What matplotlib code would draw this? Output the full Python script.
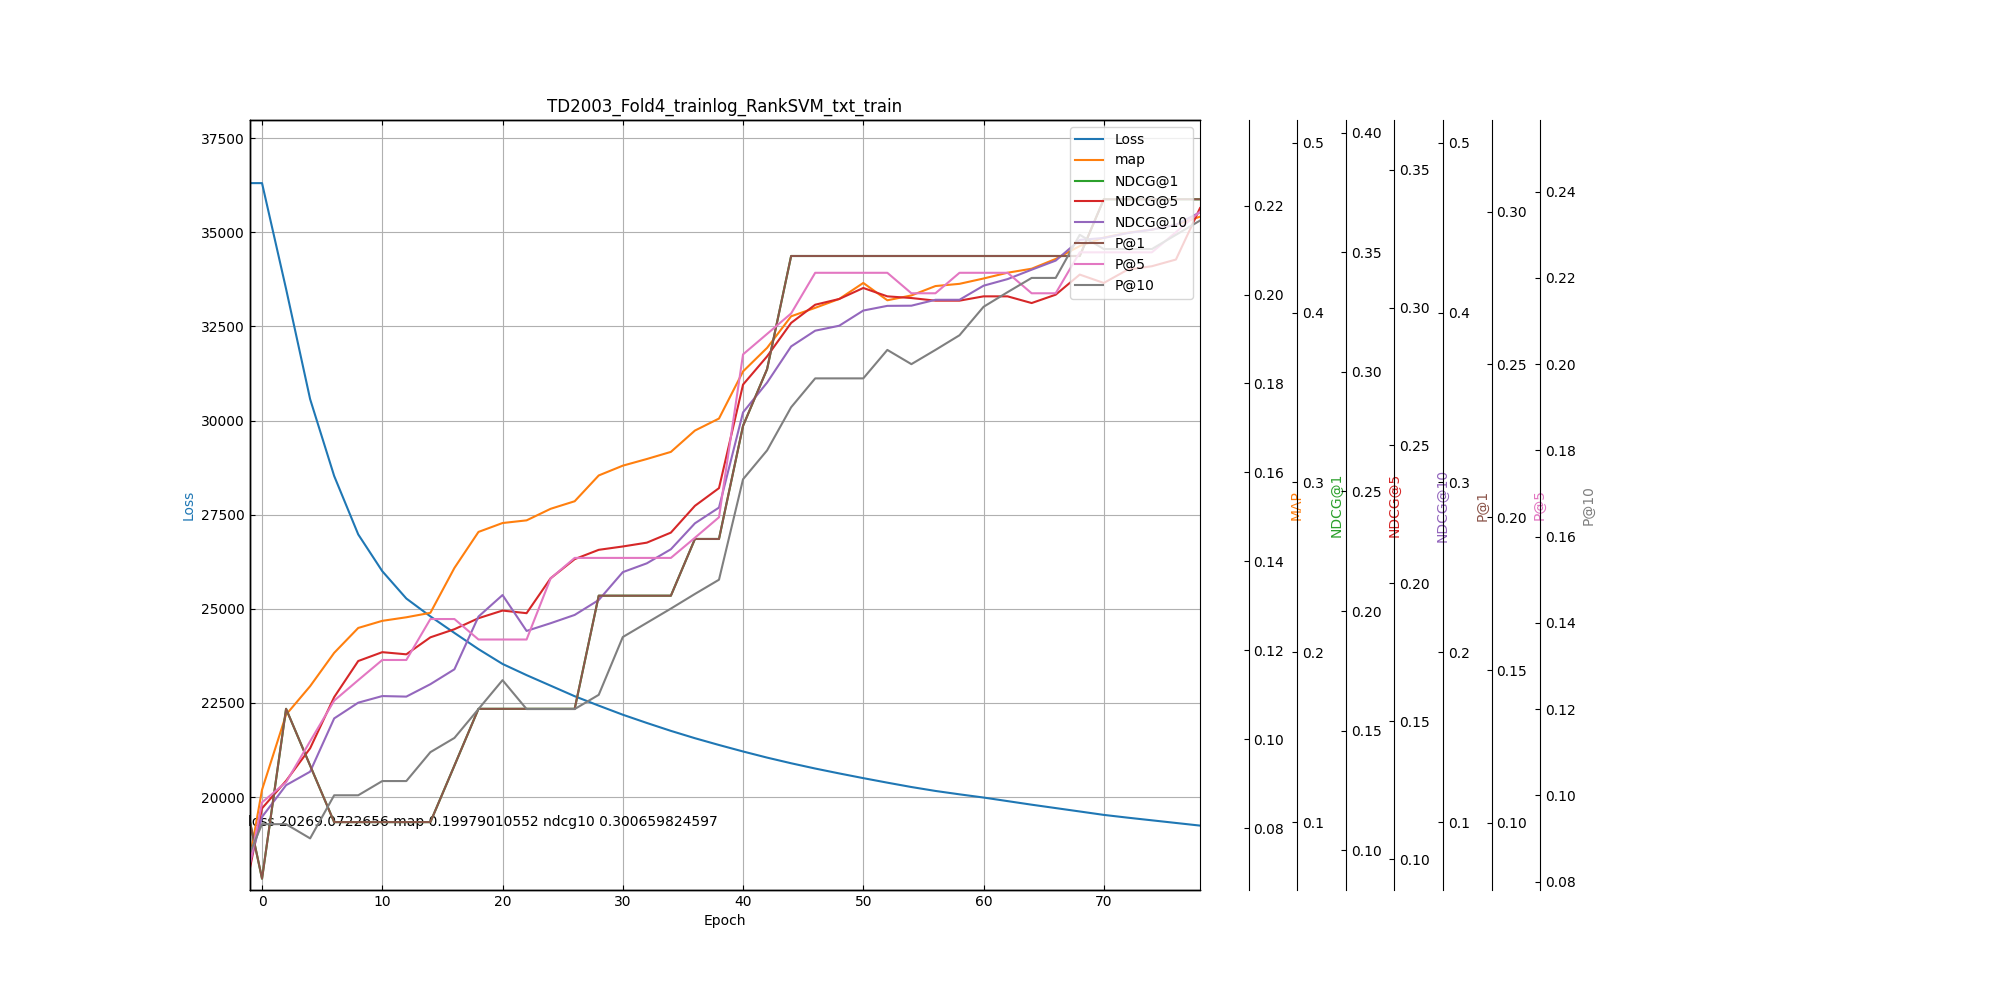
import matplotlib
matplotlib.use("Agg")
import matplotlib.pyplot as plt

epochs = [-1, 0, 2, 4, 6, 8, 10, 12, 14, 16, 18, 20, 22, 24, 26, 28, 30, 32, 34, 36, 38,
          40, 42, 44, 46, 48, 50, 52, 54, 56, 58, 60, 62, 64, 66, 68, 70, 72, 74, 76, 78]

loss = [36303, 36303, 33494, 30568, 28527, 26976, 26000, 25274, 24800, 24360, 23930,
        23537, 23240, 22960, 22680, 22430, 22189, 21970, 21760, 21565, 21385,
        21213, 21050, 20900, 20760, 20630, 20505, 20385, 20269.0722656, 20165, 20075,
        19990, 19895, 19800, 19710, 19620, 19529, 19455, 19385, 19315, 19245]

map_vals = [0.0734, 0.0886, 0.1055, 0.1119, 0.1194, 0.1250, 0.1266, 0.1274, 0.1284, 0.1385, 0.1466,
            0.1486, 0.1492, 0.1518, 0.1535, 0.1593, 0.1615, 0.1630, 0.1646, 0.1694, 0.1721,
            0.1827, 0.1880, 0.1951, 0.1970, 0.1990, 0.2026, 0.1987, 0.19979010552, 0.2019, 0.2024,
            0.2036, 0.2049, 0.2058, 0.2080, 0.2109, 0.2128, 0.2139, 0.2146, 0.2157, 0.2175]

ndcg1 = [0.1, 0.0667, 0.1667, 0.1333, 0.1, 0.1, 0.1, 0.1, 0.1, 0.1333, 0.1667,
         0.1667, 0.1667, 0.1667, 0.1667, 0.2333, 0.2333, 0.2333, 0.2333, 0.2667, 0.2667,
         0.3333, 0.3667, 0.4333, 0.4333, 0.4333, 0.4333, 0.4333, 0.4333, 0.4333, 0.4333,
         0.4333, 0.4333, 0.4333, 0.4333, 0.4333, 0.4667, 0.4667, 0.4667, 0.4667, 0.4667]

ndcg5 = [0.0926, 0.1175, 0.1290, 0.1426, 0.1640, 0.1791, 0.1828, 0.1819, 0.1890, 0.1924, 0.1970,
         0.2002, 0.1991, 0.2137, 0.2217, 0.2256, 0.2270, 0.2286, 0.2328, 0.2440, 0.2514,
         0.2947, 0.3065, 0.3205, 0.3281, 0.3305, 0.3351, 0.3316, 0.3309, 0.3298, 0.3298,
         0.3316, 0.3316, 0.3288, 0.3323, 0.3407, 0.3372, 0.3428, 0.3442, 0.3470, 0.3685]

ndcg10 = [0.0988, 0.1154, 0.1269, 0.1318, 0.1511, 0.1568, 0.1592, 0.1590, 0.1635, 0.1689, 0.1880,
          0.1958, 0.1828, 0.1856, 0.1886, 0.1940, 0.2041, 0.2073, 0.2124, 0.2218, 0.2275,
          0.2620, 0.2728, 0.2859, 0.2916, 0.2934, 0.2989, 0.3006, 0.300659824597, 0.3028, 0.3028,
          0.3079, 0.3103, 0.3137, 0.3170, 0.3245, 0.3252, 0.3270, 0.3282, 0.3300, 0.3345]

p1 = [0.1, 0.0667, 0.1667, 0.1333, 0.1, 0.1, 0.1, 0.1, 0.1, 0.1333, 0.1667,
      0.1667, 0.1667, 0.1667, 0.1667, 0.2333, 0.2333, 0.2333, 0.2333, 0.2667, 0.2667,
      0.3333, 0.3667, 0.4333, 0.4333, 0.4333, 0.4333, 0.4333, 0.4333, 0.4333, 0.4333,
      0.4333, 0.4333, 0.4333, 0.4333, 0.4333, 0.4667, 0.4667, 0.4667, 0.4667, 0.4667]

p5 = [0.0867, 0.1067, 0.1133, 0.1267, 0.1400, 0.1467, 0.1533, 0.1533, 0.1667, 0.1667, 0.1600,
      0.1600, 0.1600, 0.1800, 0.1867, 0.1867, 0.1867, 0.1867, 0.1867, 0.1933, 0.2000,
      0.2533, 0.2600, 0.2667, 0.2800, 0.2800, 0.2800, 0.2800, 0.2733, 0.2733, 0.2800,
      0.2800, 0.2800, 0.2733, 0.2733, 0.2867, 0.2867, 0.2867, 0.2867, 0.2933, 0.3000]

p10 = [0.0867, 0.0933, 0.0933, 0.0900, 0.1000, 0.1000, 0.1033, 0.1033, 0.1100, 0.1133, 0.1200,
       0.1267, 0.1200, 0.1200, 0.1200, 0.1233, 0.1367, 0.1400, 0.1433, 0.1467, 0.1500,
       0.1733, 0.1800, 0.1900, 0.1967, 0.1967, 0.1967, 0.2033, 0.2000, 0.2033, 0.2067,
       0.2133, 0.2167, 0.2200, 0.2200, 0.2300, 0.2267, 0.2267, 0.2267, 0.2300, 0.2333]

legend_labels = ["Loss", "map", "NDCG@1", "NDCG@5", "NDCG@10", "P@1", "P@5", "P@10"]
axis_labels = ["MAP", "NDCG@1", "NDCG@5", "NDCG@10", "P@1", "P@5", "P@10"]
metric_series = [map_vals, ndcg1, ndcg5, ndcg10, p1, p5, p10]
colors = ["C0", "C1", "C2", "C3", "C4", "C5", "C6", "C7"]

title = "TD2003_Fold4_trainlog_RankSVM_txt_train"
note = "loss 20269.0722656 map 0.19979010552 ndcg10 0.300659824597"

plt.rcParams.update({
    "font.family": ["DejaVu Sans"],
    "xtick.direction": "in",
    "ytick.direction": "in",
    "xtick.top": True,
})

fig = plt.figure(figsize=(20, 10), dpi=100)
ax = fig.add_subplot(111)
fig.subplots_adjust(right=0.6)

h0, = ax.plot(epochs, loss, color=colors[0], label=legend_labels[0])
ax.set_xlim(epochs[0], epochs[-1])
ax.set_ylim(17535, 37979)
ax.set_xlabel("Epoch")
ax.set_ylabel("Loss", color=colors[0])
ax.set_title(title)
ax.grid(True)
ax.text(epochs[0] - 0.15, loss[-1], note)

handles = [h0]
tw = ax
for i, vals in enumerate(metric_series):
    tw = ax.twinx()
    tw.spines["right"].set_position(("outward", 35 * (i + 1)))
    h, = tw.plot(epochs, vals, color=colors[i + 1], label=legend_labels[i + 1])
    tw.set_ylim(min(vals) * 0.9, max(vals) * 1.1)
    tw.set_ylabel(axis_labels[i], color=colors[i + 1])
    handles.append(h)

tw.legend(handles, legend_labels, loc="upper right")

fig.savefig("out.png", dpi=100)
